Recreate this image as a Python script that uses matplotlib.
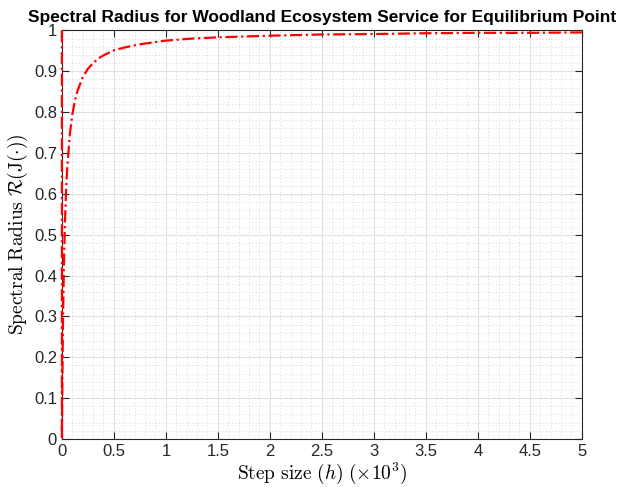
import matplotlib
matplotlib.use('Agg')
import matplotlib.pyplot as plt
from matplotlib.ticker import MultipleLocator

# step size h (x10^3) and spectral radius
h = [0, 0, 0.005, 0.01, 0.02, 0.03, 0.04, 0.05, 0.075, 0.1, 0.125, 0.15,
     0.2, 0.25, 0.3, 0.35, 0.4, 0.5, 0.6, 0.75, 1, 1.25, 1.5, 2, 2.5, 3,
     3.5, 4, 4.5, 5]
rho = [1, 0, 0.161, 0.278, 0.435, 0.536, 0.606, 0.658, 0.743, 0.794, 0.828,
       0.852, 0.885, 0.906, 0.920, 0.931, 0.939, 0.951, 0.958, 0.966, 0.975,
       0.980, 0.983, 0.987, 0.990, 0.991, 0.993, 0.994, 0.994, 0.995]

xticks = [0, 0.5, 1, 1.5, 2, 2.5, 3, 3.5, 4, 4.5, 5]
xlabels = ['0', '0.5', '1', '1.5', '2', '2.5', '3', '3.5', '4', '4.5', '5']
yticks = [0, 0.1, 0.2, 0.3, 0.4, 0.5, 0.6, 0.7, 0.8, 0.9, 1]
ylabels = ['0', '0.1', '0.2', '0.3', '0.4', '0.5', '0.6', '0.7', '0.8', '0.9', '1']

plt.rcParams['mathtext.fontset'] = 'cm'
plt.rcParams['font.family'] = ['Liberation Sans', 'DejaVu Sans']

fig = plt.figure(figsize=(6.19, 4.87), dpi=100)
ax = fig.add_axes([0.100, 0.0986, 0.840, 0.839])

ax.plot(h, rho, color='red', linestyle=(0, (5.5, 1.6, 1, 1.6)), linewidth=1.6,
        clip_on=False, zorder=3)

ax.set_xlim(0, 5)
ax.set_ylim(0, 1)
ax.set_xticks(xticks, xlabels)
ax.set_yticks(yticks, ylabels)
ax.xaxis.set_minor_locator(MultipleLocator(0.1))
ax.yaxis.set_minor_locator(MultipleLocator(0.02))

ax.grid(True, which='major', color='#e0e0e0', linewidth=0.8, linestyle='-')
ax.grid(True, which='minor', color='#c8c8c8', linewidth=0.6, linestyle=(0, (1, 3)))
ax.set_axisbelow(True)

ax.tick_params(which='both', direction='in', top=True, right=True, labelsize=12,
               labelcolor='#262626', color='#262626')
ax.tick_params(which='major', length=5, width=0.8)
ax.tick_params(which='minor', length=0)
for s in ax.spines.values():
    s.set_color('#262626')
    s.set_linewidth(0.8)

ax.set_title('Spectral Radius for Woodland Ecosystem Service for Equilibrium Point',
             fontsize=12.5, fontweight='bold', pad=6)
ax.set_xlabel(r'$\mathrm{Step\ size}\ (h)\ (\times 10^3)$', fontsize=14, labelpad=1)
ax.set_ylabel(r'$\mathrm{Spectral\ Radius}\ \mathcal{R}(\mathrm{J}(\cdot))$', fontsize=14, labelpad=3)

fig.savefig('out.png', dpi=100)
